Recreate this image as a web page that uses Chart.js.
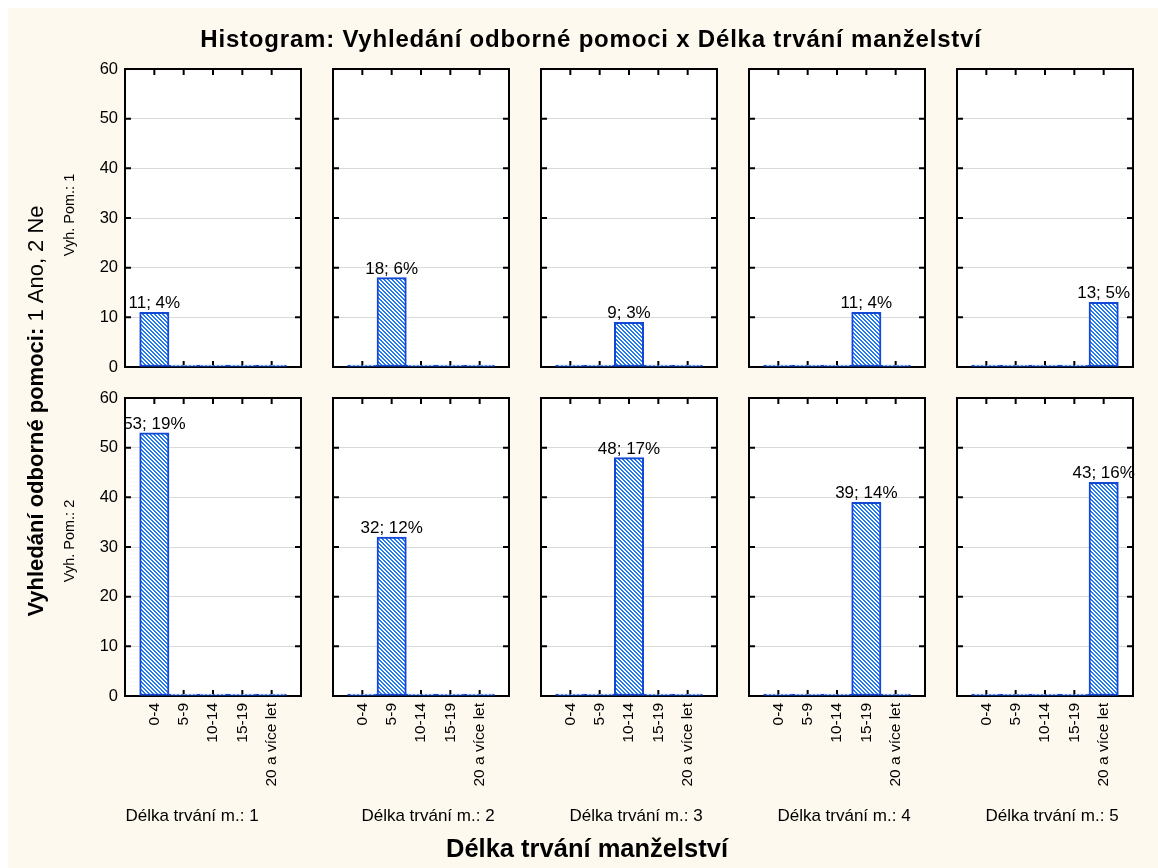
<!DOCTYPE html>
<html>
<head>
<meta charset="utf-8">
<script src="https://cdn.jsdelivr.net/npm/chart.js@4.4.1/dist/chart.umd.min.js"></script>
<style>
  html, body { margin: 0; padding: 0; background: #fff; }
  #page { position: relative; width: 1158px; height: 868px; overflow: hidden; }
  #cream { position: absolute; left: 8px; top: 8px; right: 0; bottom: 0; background: #fdf9ef; }
  canvas { position: absolute; }
</style>
</head>
<body>
<div id="page">
  <div id="cream"></div>
  <canvas id="texts" width="1158" height="868" style="left:0;top:0"></canvas>
</div>
<script>
// categories on the x axis of every small panel
const categories = ['0-4', '5-9', '10-14', '15-19', '20 a více let'];
const groupLabels = ['Délka trvání m.: 1', 'Délka trvání m.: 2', 'Délka trvání m.: 3', 'Délka trvání m.: 4', 'Délka trvání m.: 5'];
const rowLabels = ['Vyh. Pom.: 1', 'Vyh. Pom.: 2'];

// counts per panel (one array per "Délka trvání m." group)
const pomocAno = [
  [11, 0, 0, 0, 0],
  [0, 18, 0, 0, 0],
  [0, 0, 9, 0, 0],
  [0, 0, 0, 11, 0],
  [0, 0, 0, 0, 13]
];
const pomocNe = [
  [53, 0, 0, 0, 0],
  [0, 32, 0, 0, 0],
  [0, 0, 48, 0, 0],
  [0, 0, 0, 39, 0],
  [0, 0, 0, 0, 43]
];
const yMax = 60;
const yStep = 10;

const rows = [pomocAno, pomocNe];
const TOTAL = rows.flat(2).reduce((a, b) => a + b, 0);

const FONT = "'Liberation Sans', Arial, sans-serif";
Chart.defaults.font.family = FONT;
Chart.defaults.color = '#000';

// layout of the grid of panels
const PANEL_LEFT = 125, PANEL_STEP = 208, PANEL_W = 176;
const ROW_TOP = [69, 398], PANEL_H = 298;
const PAD_L = 50, PAD_R = 14, PAD_T = 26;
const BOTTOM_H = [26, 110];

// hatch fill like the original
function makeHatch() {
  const c = document.createElement('canvas');
  c.width = 4; c.height = 4;
  const g = c.getContext('2d');
  const img = g.createImageData(4, 4);
  for (let y = 0; y < 4; y++) {
    for (let x = 0; x < 4; x++) {
      const k = (y * 4 + x) * 4;
      const blue = ((x - y + 8) % 4) < 2;
      img.data[k] = blue ? 0x22 : 255;
      img.data[k + 1] = blue ? 0x7a : 255;
      img.data[k + 2] = blue ? 0xf0 : 255;
      img.data[k + 3] = 255;
    }
  }
  g.putImageData(img, 0, 0);
  return g.createPattern(c, 'repeat');
}
const hatch = makeHatch();

const framePlugin = {
  id: 'frame',
  beforeDraw(chart) {
    const a = chart.chartArea, ctx = chart.ctx;
    ctx.save();
    ctx.fillStyle = '#fff';
    ctx.fillRect(a.left, a.top, a.width, a.height);
    ctx.restore();
  },
  beforeDatasetsDraw(chart) {
    const a = chart.chartArea, ctx = chart.ctx;
    const xs = chart.scales.x, ys = chart.scales.y;
    ctx.save();
    ctx.strokeStyle = '#000';
    ctx.lineWidth = 2;
    ctx.strokeRect(a.left, a.top, a.width, a.height);
    ctx.beginPath();
    xs.ticks.forEach(t => {
      const px = xs.getPixelForValue(t.value);
      ctx.moveTo(px, a.top); ctx.lineTo(px, a.top + 6);
      ctx.moveTo(px, a.bottom); ctx.lineTo(px, a.bottom - 6);
    });
    ys.ticks.forEach(t => {
      const py = ys.getPixelForValue(t.value);
      ctx.moveTo(a.left, py); ctx.lineTo(a.left + 6, py);
      ctx.moveTo(a.right, py); ctx.lineTo(a.right - 6, py);
    });
    ctx.stroke();
    ctx.restore();
  },
  afterDatasetsDraw(chart) {
    const ctx = chart.ctx;
    const data = chart.data.datasets[0].data;
    ctx.save();
    ctx.font = '17px ' + FONT;
    ctx.fillStyle = '#000';
    ctx.textAlign = 'center';
    ctx.textBaseline = 'alphabetic';
    chart.getDatasetMeta(0).data.forEach((bar, i) => {
      const v = data[i].y;
      if (!v) return;
      const pct = Math.round(v / TOTAL * 100);
      ctx.fillText(v + '; ' + pct + '%', bar.x, bar.y - 4);
    });
    ctx.restore();
  }
};

function makePanel(row, col, values) {
  const page = document.getElementById('page');
  const canvas = document.createElement('canvas');
  const w = PAD_L + PANEL_W + PAD_R;
  const h = PAD_T + PANEL_H + BOTTOM_H[row];
  canvas.width = w; canvas.height = h;
  canvas.style.left = (PANEL_LEFT + col * PANEL_STEP - PAD_L) + 'px';
  canvas.style.top = (ROW_TOP[row] - PAD_T) + 'px';
  page.appendChild(canvas);

  new Chart(canvas.getContext('2d'), {
    type: 'bar',
    data: {
      datasets: [{
        data: values.map((v, i) => ({ x: i + 1, y: v })),
        backgroundColor: hatch,
        borderColor: '#1248d4',
        borderWidth: 2,
        borderSkipped: false,
        barPercentage: 1,
        categoryPercentage: 1,
        minBarLength: 2
      }]
    },
    options: {
      responsive: false,
      animation: false,
      events: [],
      layout: { padding: { left: 0, right: PAD_R, top: PAD_T, bottom: 0 } },
      plugins: { legend: { display: false }, tooltip: { enabled: false } },
      scales: {
        x: {
          type: 'linear', min: 0, max: categories.length + 1, offset: false,
          grid: { display: false, drawTicks: false },
          border: { display: false },
          afterBuildTicks: s => { s.ticks = s.ticks.filter(t => t.value >= 1 && t.value <= categories.length); },
          afterFit: s => { s.height = BOTTOM_H[row]; },
          ticks: {
            display: row === 1, stepSize: 1, autoSkip: false,
            minRotation: 90, maxRotation: 90, padding: 7,
            font: { size: 15.5 },
            callback: v => categories[v - 1] || ''
          }
        },
        y: {
          min: 0, max: yMax,
          grid: { color: '#dadada', lineWidth: 1, drawTicks: false },
          border: { display: false },
          afterFit: s => { s.width = PAD_L; },
          ticks: { display: col === 0, stepSize: yStep, padding: 7, font: { size: 16.5 } }
        }
      }
    },
    plugins: [framePlugin]
  });
}

rows.forEach((panels, r) => panels.forEach((vals, c) => makePanel(r, c, vals)));

// surrounding texts
(function drawTexts() {
  const ctx = document.getElementById('texts').getContext('2d');
  ctx.fillStyle = '#000';
  ctx.textBaseline = 'alphabetic';

  ctx.textAlign = 'center';
  ctx.font = 'bold 24px ' + FONT;
  ctx.letterSpacing = '0.8px';
  ctx.fillText('Histogram: Vyhledání odborné pomoci x Délka trvání manželství', 591, 47);
  ctx.letterSpacing = '0px';

  ctx.font = 'bold 25.5px ' + FONT;
  ctx.fillText('Délka trvání manželství', 587, 857);

  ctx.font = '17px ' + FONT;
  groupLabels.forEach((t, i) => {
    const cx = i === 0 ? 192 : PANEL_LEFT + i * PANEL_STEP + PANEL_W / 2 + 7;
    ctx.fillText(t, cx, 821);
  });

  // row labels
  ctx.font = '14.5px ' + FONT;
  [215, 541].forEach((cy, i) => {
    ctx.save();
    ctx.translate(74, cy);
    ctx.rotate(-Math.PI / 2);
    ctx.fillText(rowLabels[i], 0, 0);
    ctx.restore();
  });

  // y axis title, bold + regular part
  const boldPart = 'Vyhledání odborné pomoci:';
  const regPart = ' 1 Ano, 2 Ne';
  ctx.save();
  ctx.translate(43, 411);
  ctx.rotate(-Math.PI / 2);
  ctx.textAlign = 'left';
  ctx.font = 'bold 22px ' + FONT;
  const bw = ctx.measureText(boldPart).width;
  ctx.font = '22px ' + FONT;
  const rw = ctx.measureText(regPart).width;
  const x0 = -(bw + rw) / 2;
  ctx.font = 'bold 22px ' + FONT;
  ctx.fillText(boldPart, x0, 0);
  ctx.font = '22px ' + FONT;
  ctx.fillText(regPart, x0 + bw, 0);
  ctx.restore();
})();
</script>
</body>
</html>
